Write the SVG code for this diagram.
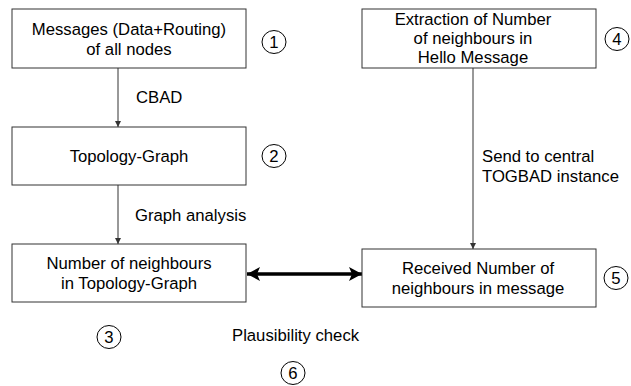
<svg xmlns="http://www.w3.org/2000/svg" width="631" height="386" viewBox="0 0 631 386">
<defs>
<style>
text{font-family:"Liberation Sans",Arial,sans-serif;font-size:16.7px;fill:#000}
.box{fill:#fff;stroke:#333;stroke-width:1}
.c{text-anchor:middle}
.num{fill:#fff;stroke:#000;stroke-width:1}
.thin{stroke:#333;stroke-width:1;fill:none}
.thick{stroke:#000;stroke-width:3.5;fill:none}
</style>
<marker id="sa" viewBox="0 0 6 6" refX="6" refY="3" markerWidth="6" markerHeight="6" markerUnits="userSpaceOnUse" orient="auto"><path d="M0,0L6,3L0,6z" fill="#333"/></marker>
<marker id="ba" viewBox="0 0 13 14" refX="13" refY="7" markerWidth="13" markerHeight="14" markerUnits="userSpaceOnUse" orient="auto-start-reverse"><path d="M0,0L13,7L0,14L3,7z" fill="#000"/></marker>
</defs>
<g id="connectors">
<line class="thin" x1="118" y1="68" x2="118" y2="127" marker-end="url(#sa)"/>
<line class="thin" x1="118" y1="185" x2="118" y2="244" marker-end="url(#sa)"/>
<line class="thin" x1="473" y1="68" x2="473" y2="249" marker-end="url(#sa)"/>
<line class="thick" x1="247" y1="274" x2="362" y2="274" marker-start="url(#ba)" marker-end="url(#ba)"/>
<text x="136" y="103">CBAD</text>
<text x="135" y="221">Graph analysis</text>
<text x="482" y="162">Send to central</text>
<text x="482" y="182">TOGBAD instance</text>
<text x="232" y="341">Plausibility check</text>
</g>
<g id="n1">
<rect class="box" x="12" y="9" width="234" height="59"/>
<text class="c" x="129" y="35">Messages (Data+Routing)</text>
<text class="c" x="129" y="55">of all nodes</text>
</g>
<g id="n2">
<rect class="box" x="12" y="127" width="234" height="58"/>
<text class="c" x="129" y="162">Topology-Graph</text>
</g>
<g id="n3">
<rect class="box" x="12" y="244" width="234" height="58"/>
<text class="c" x="129" y="269">Number of neighbours</text>
<text class="c" x="129" y="289">in Topology-Graph</text>
</g>
<g id="n4">
<rect class="box" x="362" y="9" width="234" height="59"/>
<text class="c" x="473" y="25">Extraction of Number</text>
<text class="c" x="473" y="44">of neighbours in</text>
<text class="c" x="473" y="63">Hello Message</text>
</g>
<g id="n5">
<rect class="box" x="362" y="249" width="234" height="58"/>
<text class="c" x="478" y="274">Received Number of</text>
<text class="c" x="478" y="294">neighbours in message</text>
</g>
<g id="m1"><ellipse class="num" cx="274" cy="42" rx="12" ry="11.5"/><text class="c" x="274" y="48">1</text></g>
<g id="m2"><ellipse class="num" cx="274" cy="156" rx="12" ry="11.5"/><text class="c" x="274" y="162">2</text></g>
<g id="m3"><ellipse class="num" cx="109" cy="337" rx="12" ry="11.5"/><text class="c" x="109" y="343">3</text></g>
<g id="m4"><ellipse class="num" cx="617" cy="39" rx="12" ry="11.5"/><text class="c" x="617" y="45">4</text></g>
<g id="m5"><ellipse class="num" cx="616" cy="278" rx="12" ry="11.5"/><text class="c" x="616" y="284">5</text></g>
<g id="m6"><ellipse class="num" cx="293" cy="373" rx="12" ry="11.5"/><text class="c" x="293" y="379">6</text></g>
</svg>
